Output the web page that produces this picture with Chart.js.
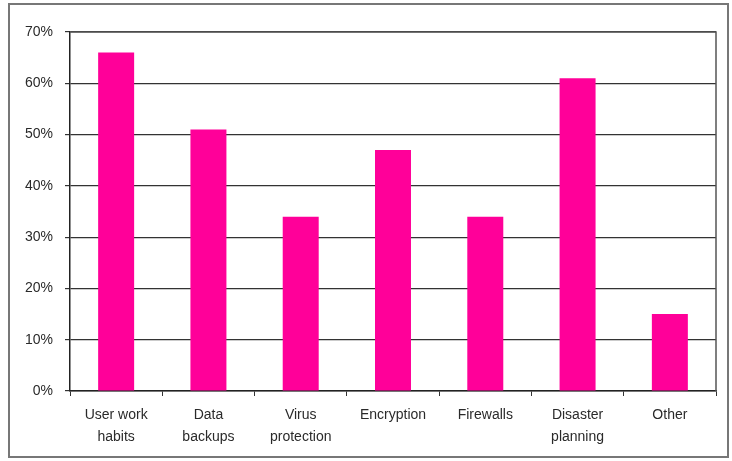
<!DOCTYPE html>
<html>
<head>
<meta charset="utf-8">
<script src="https://cdn.jsdelivr.net/npm/chart.js@4"></script>
<style>
  html, body { margin: 0; padding: 0; background: #fff; }
  #wrap { width: 732px; height: 461px; position: relative; }
</style>
</head>
<body>
<div id="wrap"><canvas id="myChart"></canvas></div>
<script>
const categories = [
  ["User work", "habits"],
  ["Data", "backups"],
  ["Virus", "protection"],
  "Encryption",
  "Firewalls",
  ["Disaster", "planning"],
  "Other",
];
const percentValues = [66, 51, 34, 47, 34, 61, 15];
const yTicks = [0, 10, 20, 30, 40, 50, 60, 70];

// frame round the whole picture and the plot area box
const framePlugin = {
  id: "frame",
  afterDraw(chart) {
    const ctx = chart.ctx;
    const a = chart.chartArea;
    ctx.save();
    ctx.strokeStyle = "#777";
    ctx.lineWidth = 2;
    ctx.strokeRect(9, 4, 719, 453);
    ctx.strokeStyle = "#555";
    ctx.lineWidth = 1.5;
    ctx.beginPath();
    ctx.moveTo(a.left, a.top);
    ctx.lineTo(a.right, a.top);
    ctx.lineTo(a.right, a.bottom);
    ctx.stroke();
    ctx.restore();
  },
};

const ctx = document.getElementById("myChart").getContext("2d");
const myChart = new Chart(ctx, {
  type: "bar",
  data: {
    labels: categories,
    datasets: [
      {
        data: percentValues,
        backgroundColor: "#ff0099",
        borderWidth: 0,
        categoryPercentage: 1,
        barPercentage: 0.39,
      },
    ],
  },
  options: {
    responsive: true,
    maintainAspectRatio: false,
    animation: false,
    layout: { padding: { top: 32, right: 16, left: 0, bottom: 0 } },
    plugins: {
      legend: { display: false },
      tooltip: { enabled: false },
    },
    scales: {
      x: {
        offset: true,
        grid: {
          offset: true,
          drawOnChartArea: false,
          drawTicks: true,
          tickLength: 5,
          color: "#333",
        },
        border: { color: "#222", width: 1.5 },
        ticks: {
          color: "#2a2a2a",
          padding: 8,
          maxRotation: 0,
          autoSkip: false,
          font: { family: "'Liberation Sans', Arial, sans-serif", size: 14, lineHeight: 1.6 },
        },
        afterFit(scale) {
          scale.height = 70;
        },
      },
      y: {
        min: 0,
        max: 70,
        afterBuildTicks(scale) {
          scale.ticks = yTicks.map((v) => ({ value: v }));
        },
        grid: {
          color: "#333",
          lineWidth: 1.2,
          tickLength: 5,
        },
        border: { color: "#222", width: 1.5 },
        ticks: {
          color: "#2a2a2a",
          padding: 12,
          callback: (v) => v + "%",
          font: { family: "'Liberation Sans', Arial, sans-serif", size: 14 },
        },
        afterFit(scale) {
          scale.width = 70;
        },
      },
    },
  },
  plugins: [framePlugin],
});
</script>
</body>
</html>
